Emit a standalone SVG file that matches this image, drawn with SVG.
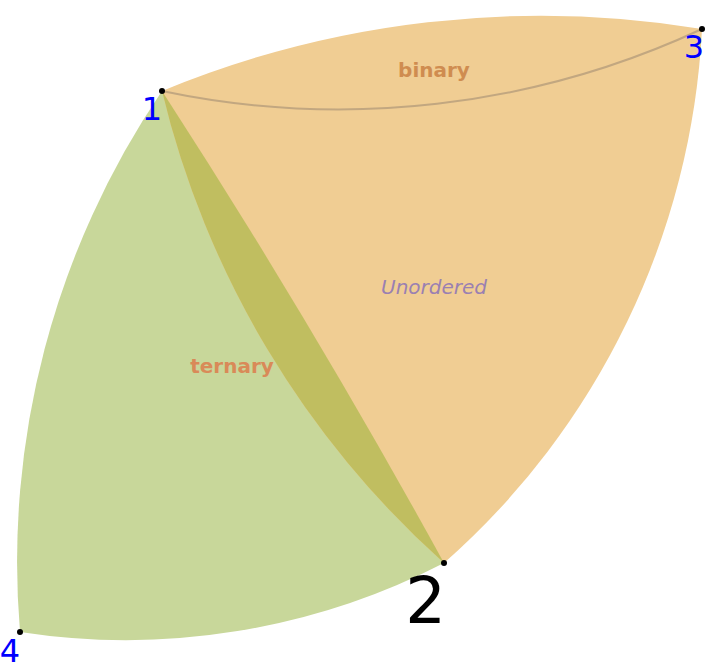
<svg xmlns="http://www.w3.org/2000/svg" width="720" height="671" viewBox="0 0 720 671">
<style>
.reg{stroke:none}
.lbl{font-family:"DejaVu Sans",sans-serif;font-size:20px;text-anchor:middle}
.pt{font-family:"DejaVu Sans",sans-serif;font-size:32px;fill:#0000ff;text-anchor:end}
.dot{fill:#000}
</style>
<rect width="720" height="671" fill="#fff"/>
<g id="ternary">
<path class="reg" fill="#c8d79a" d="M162,91 A838,838 0 0 0 20,632 A695,695 0 0 0 444,563 A7560,7560 0 0 0 162,91 Z"/>
</g>
<g id="binary">
<path class="reg" fill="#f0cd93" d="M162,91 A991,991 0 0 1 702,29 A763,763 0 0 1 444,563 A921,921 0 0 1 162,91 Z"/>
</g>
<g id="overlap">
<path class="reg" fill="#c0be60" d="M162,91 A7560,7560 0 0 1 444,563 A921,921 0 0 1 162,91 Z"/>
</g>
<g id="connectors">
<path d="M162,91 A860,860 0 0 0 702,29" fill="none" stroke="#c2a780" stroke-width="2"/>
</g>
<g id="labels">
<text class="lbl" x="434" y="77" font-weight="bold" fill="#cf8c50">binary</text>
<text class="lbl" x="232" y="373" font-weight="bold" fill="#d98a58">ternary</text>
<text class="lbl" x="434" y="294" font-style="italic" fill="#9a80b2">Unordered</text>
</g>
<g id="p1"><circle class="dot" cx="162" cy="91" r="3"/><text class="pt" x="162" y="120">1</text></g>
<g id="p3"><circle class="dot" cx="702" cy="29" r="3"/><text class="pt" x="704" y="58">3</text></g>
<g id="p2"><circle class="dot" cx="444" cy="563" r="3"/><text class="pt" x="446" y="623" style="font-size:64px;fill:#000">2</text></g>
<g id="p4"><circle class="dot" cx="20" cy="632" r="3"/><text class="pt" x="20" y="662">4</text></g>
</svg>
